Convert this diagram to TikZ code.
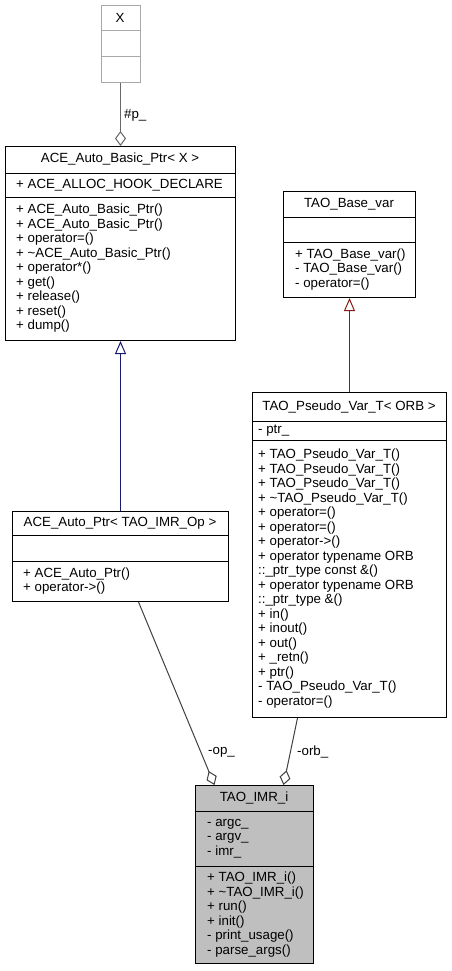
\documentclass[tikz,border=0pt]{standalone}
\usepackage{fontspec}
\setmainfont{Liberation Sans}
\usetikzlibrary{arrows.meta}
\definecolor{edgegray}{HTML}{404040}
\definecolor{usegray}{HTML}{686868}
\definecolor{undocgray}{HTML}{A8A8A8}
\definecolor{nodegray}{HTML}{BFBFBF}
\definecolor{inhblue}{HTML}{191970}
\definecolor{inhred}{HTML}{8B1A1A}
\begin{document}
\begin{tikzpicture}[x=1pt, y=-1pt,
        cls/.style={rectangle, draw=black, fill=white, line width=1pt, inner sep=0pt, anchor=north west},
        title/.style={inner sep=0pt, font=\fontsize{13.3}{14.5}\selectfont},
        member/.style={anchor=west, align=left, inner sep=0pt, font=\fontsize{13.3}{14.5}\selectfont},
        inherit/.style={-{Triangle[open, length=13pt, width=11pt, fill=white]}, line width=1pt},
        aggr/.style={-{Diamond[open, length=15pt, width=11pt, fill=white]}, draw=edgegray, line width=1pt}
    ]
        \useasboundingbox (0,0) rectangle (452,971);

        % Classes
        \node[cls, draw=undocgray, minimum width=39pt, minimum height=77pt] (xcls) at (100.5,5) {};
        \node[cls, minimum width=230pt, minimum height=194pt] (basicptr) at (5,146) {};
        \node[cls, minimum width=132pt, minimum height=106pt] (basevar) at (283,191) {};
        \node[cls, minimum width=194pt, minimum height=325pt] (pseudovar) at (252,392) {};
        \node[cls, minimum width=216pt, minimum height=90pt] (autoptr) at (12,511) {};
        \node[cls, fill=nodegray, minimum width=118pt, minimum height=178pt] (imri) at (195,785) {};

        % Compartments
        \draw[undocgray, line width=1pt] (100.5,31) -- (139.5,31);
        \draw[undocgray, line width=1pt] (100.5,57) -- (139.5,57);
        \draw[line width=1pt] (5,173) -- (235,173);
        \draw[line width=1pt] (5,197) -- (235,197);
        \draw[line width=1pt] (283,217) -- (415,217);
        \draw[line width=1pt] (283,242) -- (415,242);
        \draw[line width=1pt] (252,421) -- (446,421);
        \draw[line width=1pt] (252,440) -- (446,440);
        \draw[line width=1pt] (12,535) -- (228,535);
        \draw[line width=1pt] (12,561) -- (228,561);
        \draw[line width=1pt] (195,811) -- (313,811);
        \draw[line width=1pt] (195,866) -- (313,866);

        % Texts
        \node[title] (xname) at (120,18) {X};

        \node[title] (basicptrname) at (120,159.5) {ACE\_Auto\_Basic\_Ptr< X >};
        \node[member] (basicptrattr) at (16,185) {+ ACE\_ALLOC\_HOOK\_DECLARE};
        \node[member] (basicptrops) at (16,268.5) {+ ACE\_Auto\_Basic\_Ptr()\\+ ACE\_Auto\_Basic\_Ptr()\\+ operator=()\\+ \textasciitilde ACE\_Auto\_Basic\_Ptr()\\+ operator*()\\+ get()\\+ release()\\+ reset()\\+ dump()};

        \node[title] (basevarname) at (349,204) {TAO\_Base\_var};
        \node[member] (basevarops) at (295,269.5) {+ TAO\_Base\_var()\\- TAO\_Base\_var()\\- operator=()};

        \node[title] (pseudovarname) at (349,406.5) {TAO\_Pseudo\_Var\_T< ORB >};
        \node[member] (pseudovarattr) at (258,430.5) {- ptr\_};
        \node[member] (pseudovarops) at (258,578.5) {+ TAO\_Pseudo\_Var\_T()\\+ TAO\_Pseudo\_Var\_T()\\+ TAO\_Pseudo\_Var\_T()\\+ \textasciitilde TAO\_Pseudo\_Var\_T()\\+ operator=()\\+ operator=()\\+ operator->()\\+ operator typename ORB\\::\_ptr\_type const \&()\\+ operator typename ORB\\::\_ptr\_type \&()\\+ in()\\+ inout()\\+ out()\\+ \_retn()\\+ ptr()\\- TAO\_Pseudo\_Var\_T()\\- operator=()};

        \node[title] (autoptrname) at (120,523) {ACE\_Auto\_Ptr< TAO\_IMR\_Op >};
        \node[member] (autoptrops) at (23,581) {+ ACE\_Auto\_Ptr()\\+ operator->()};

        \node[title] (imriname) at (254,798) {TAO\_IMR\_i};
        \node[member] (imriattr) at (207,838.5) {- argc\_\\- argv\_\\- imr\_};
        \node[member] (imriops) at (207,914.5) {+ TAO\_IMR\_i()\\+ \textasciitilde TAO\_IMR\_i()\\+ run()\\+ init()\\- print\_usage()\\- parse\_args()};

        % Relations
        \draw[aggr, draw=usegray] (xcls.south) -- (basicptr.north);
        \draw[inherit, draw=inhblue] (autoptr.north) -- (basicptr.south);
        \draw[inherit, draw=inhred] (pseudovar.north) -- (basevar.south);
        \draw[aggr] ([xshift=18pt]autoptr.south) -- ([xshift=-40pt]imri.north);
        \draw[aggr] ([xshift=-52pt]pseudovar.south) -- ([xshift=29pt]imri.north);

        \node[member] (plabel) at (124,115) {\#p\_};
        \node[member] (oplabel) at (208,752) {-op\_};
        \node[member] (orblabel) at (297,752) {-orb\_};
    \end{tikzpicture}
\end{document}
